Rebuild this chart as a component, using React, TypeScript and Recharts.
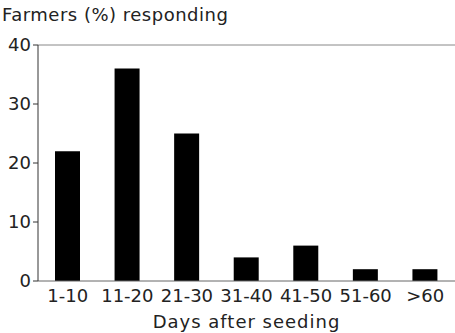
import { BarChart, Bar, XAxis, YAxis, ReferenceLine } from 'recharts';

const CATEGORIES = ['1-10', '11-20', '21-30', '31-40', '41-50', '51-60', '>60'];
const FARMERS_PCT = [22, 36, 25, 4, 6, 2, 2];
const Y_TICKS = [0, 10, 20, 30, 40];

const FONT = '"DejaVu Sans", "Liberation Sans", Arial, sans-serif';
const INK = '#222';

const data = CATEGORIES.map((c, i) => ({ days: c, pct: FARMERS_PCT[i] }));

export default function App() {
  return (
    <div style={{ position: 'absolute', left: 0, top: 0, width: 455, height: 333, background: '#fff', fontFamily: FONT }}>
      <div style={{ position: 'absolute', left: 2, top: 4, fontSize: 18, letterSpacing: 0.5, color: INK, lineHeight: '22px' }}>
        Farmers (%) responding
      </div>
      <BarChart width={455} height={333} data={data} margin={{ top: 45, right: 0, left: 0, bottom: 0 }} barCategoryGap={0}>
        <ReferenceLine y={40} stroke="#888" strokeWidth={1} />
        <XAxis
          dataKey="days"
          height={52}
          tickLine={false}
          tickMargin={2}
          stroke="#666"
          tick={{ fontSize: 18, fill: INK, fontFamily: FONT }}
          interval={0}
          label={{ value: 'Days after seeding', position: 'insideBottom', offset: 5, fontSize: 18, letterSpacing: 1, fill: INK, fontFamily: FONT }}
        />
        <YAxis
          width={38}
          domain={[0, 40]}
          ticks={Y_TICKS}
          tickSize={5}
          tickMargin={2}
          stroke="#333"
          tick={{ fontSize: 18, fill: INK, fontFamily: FONT }}
          allowDataOverflow
        />
        <Bar dataKey="pct" fill="#000" barSize={25} isAnimationActive={false} />
      </BarChart>
    </div>
  );
}
